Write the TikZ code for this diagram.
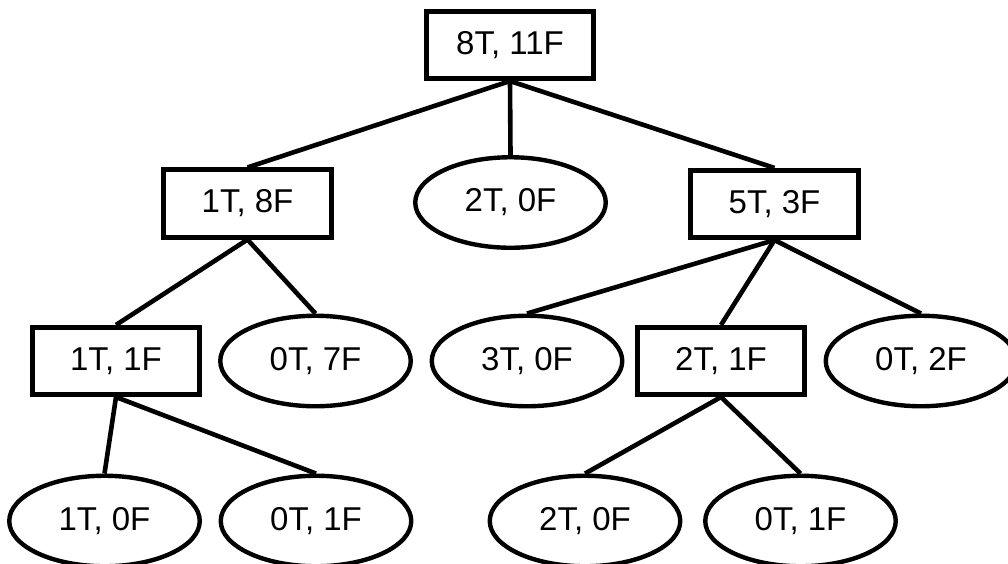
\documentclass[tikz,border=0pt]{standalone}
\usepackage{fontspec}
\setmainfont{Liberation Sans}
\usetikzlibrary{shapes.geometric}
\begin{document}
\begin{tikzpicture}[x=1pt,y=-1pt,
  lbl/.style={font=\fontsize{33}{38}\selectfont, inner sep=0pt},
  box/.style={lbl, draw, line width=4.6pt, rectangle, minimum width=167.5pt, minimum height=67.5pt},
  oval/.style={lbl, draw, line width=4.4pt, ellipse, minimum width=190.5pt, minimum height=90.5pt},
  link/.style={line width=4.6pt}]
\useasboundingbox (0,0) rectangle (1008,563);
% level 0
\node[box]  (root) at (510,45)    {8T, 11F};
% level 1
\node[box]  (a)    at (247.5,203.5) {1T, 8F};
\node[oval] (b)    at (510.5,202.5) {2T, 0F};
\node[box]  (c)    at (774.5,204) {5T, 3F};
% level 2
\node[box]  (aa)   at (116,361)   {1T, 1F};
\node[oval] (ab)   at (315.5,361) {0T, 7F};
\node[oval] (ca)   at (527,361)   {3T, 0F};
\node[box]  (cb)   at (721,361)   {2T, 1F};
\node[oval] (cc)   at (921,361)   {0T, 2F};
% level 3
\node[oval] (aaa)  at (104.5,521) {1T, 0F};
\node[oval] (aab)  at (316,521)   {0T, 1F};
\node[oval] (cba)  at (585,521)   {2T, 0F};
\node[oval] (cbb)  at (800.5,521) {0T, 1F};
% connectors
\draw[link] (root.south) -- (a.north);
\draw[link] (root.south) -- (b.north);
\draw[link] (root.south) -- (c.north);
\draw[link] (a.south) -- (aa.north);
\draw[link] (a.south) -- (ab.north);
\draw[link] (c.south) -- (ca.north);
\draw[link] (c.south) -- (cb.north);
\draw[link] (c.south) -- (cc.north);
\draw[link] (aa.south) -- (aaa.north);
\draw[link] (aa.south) -- (aab.north);
\draw[link] (cb.south) -- (cba.north);
\draw[link] (cb.south) -- (cbb.north);
\end{tikzpicture}
\end{document}
